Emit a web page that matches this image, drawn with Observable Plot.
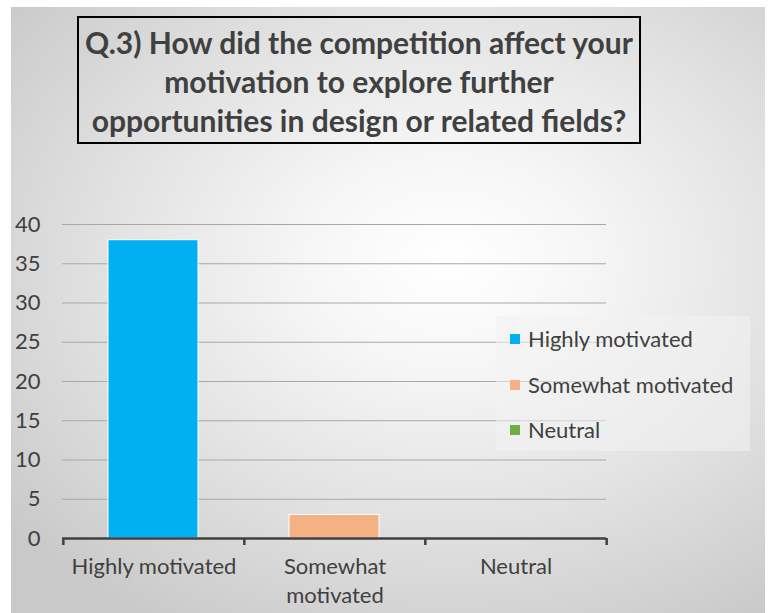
<!DOCTYPE html>
<html>
<head>
<meta charset="utf-8">
<script src="https://cdn.jsdelivr.net/npm/d3@7"></script>
<script src="https://cdn.jsdelivr.net/npm/@observablehq/plot@0.6"></script>
<style>
  html, body { margin: 0; padding: 0; background: #ffffff; }
  #wrap { position: relative; width: 769px; height: 613px; overflow: hidden; font-family: Lato, "Open Sans", sans-serif; }
  #bg { position: absolute; left: 11px; top: 7px; width: 754px; height: 606px;
        background: radial-gradient(ellipse 75% 70% at 58% 42%, #ffffff 0%, #f6f6f6 25%, #e2e2e2 60%, #c9c9c9 100%); }
  #title { position: absolute; left: 77px; top: 16px; width: 560px; height: 124px; border: 2px solid #000;
           display: flex; align-items: center; justify-content: center; text-align: center;
           font-weight: 700; font-size: 30px; line-height: 39px; color: #404040; padding-top: 3px; box-sizing: content-box; height: 121px; }
  #legend { position: absolute; left: 496px; top: 316px; width: 254px; height: 135px; background: rgba(242,242,242,0.55); }
  .li { position: absolute; left: 14px; font-size: 22px; line-height: 26px; color: #404040; display: flex; align-items: center; }
  .sw { width: 10px; height: 10px; margin-right: 8px; }
  #chart { position: absolute; left: 0; top: 0; }
</style>
</head>
<body>
<div id="wrap">
  <div id="bg"></div>
  <div id="chart"></div>
  <div id="legend"></div>
  <div id="title">Q.3) How did the competition affect your<br>motivation to explore further<br>opportunities in design or related fields?</div>
</div>
<script>
const categories = ["Highly motivated", "Somewhat motivated", "Neutral"];
const values = [38, 3, 0];
const colors = ["#00B0F0", "#F4B183", "#70AD47"];
const tickLabels = ["Highly motivated", "Somewhat\nmotivated", "Neutral"];
const yTicks = [0, 5, 10, 15, 20, 25, 30, 35, 40];

const data = categories.map((c, i) => ({category: c, value: values[i], color: colors[i]}));
const step = (606 - 62) / categories.length;

const chart = Plot.plot({
  width: 769,
  height: 613,
  marginLeft: 62,
  marginRight: 163,
  marginTop: 224,
  marginBottom: 75,
  style: {background: "transparent", fontFamily: "Lato, 'Open Sans', sans-serif"},
  x: {domain: categories, padding: 0},
  y: {domain: [0, 40]},
  marks: [
    Plot.gridY(yTicks, {stroke: "#a8a8a8", strokeOpacity: 1, strokeWidth: 1}),
    Plot.barY(data, {x: "category", y: "value", fill: "color", insetLeft: 45, insetRight: 46, stroke: "#ffffff", strokeWidth: 1}),
    Plot.ruleY([0], {stroke: "#404040", strokeWidth: 2.5}),
    Plot.ruleX(categories, {x: d => d, dx: -step / 2, y1: 0, y2: 0, insetBottom: -7, stroke: "#404040", strokeWidth: 2.5}),
    Plot.ruleX([categories[categories.length - 1]], {x: d => d, dx: step / 2, y1: 0, y2: 0, insetBottom: -7, stroke: "#404040", strokeWidth: 2.5}),
    Plot.axisY(yTicks, {tickSize: 0, tickPadding: 22, fontSize: 22, fill: "#404040", label: null}),
    Plot.axisX({tickSize: 0, tickPadding: 14, fontSize: 22, fill: "#404040", label: null, lineHeight: 1.35,
                tickFormat: (d) => tickLabels[categories.indexOf(d)]})
  ]
});
document.getElementById("chart").appendChild(chart);

const legend = document.getElementById("legend");
categories.forEach((c, i) => {
  const row = document.createElement("div");
  row.className = "li";
  row.style.top = (10 + i * 45.5) + "px";
  const sw = document.createElement("span");
  sw.className = "sw";
  sw.style.background = colors[i];
  const tx = document.createElement("span");
  tx.textContent = c;
  row.appendChild(sw); row.appendChild(tx);
  legend.appendChild(row);
});
</script>
</body>
</html>
